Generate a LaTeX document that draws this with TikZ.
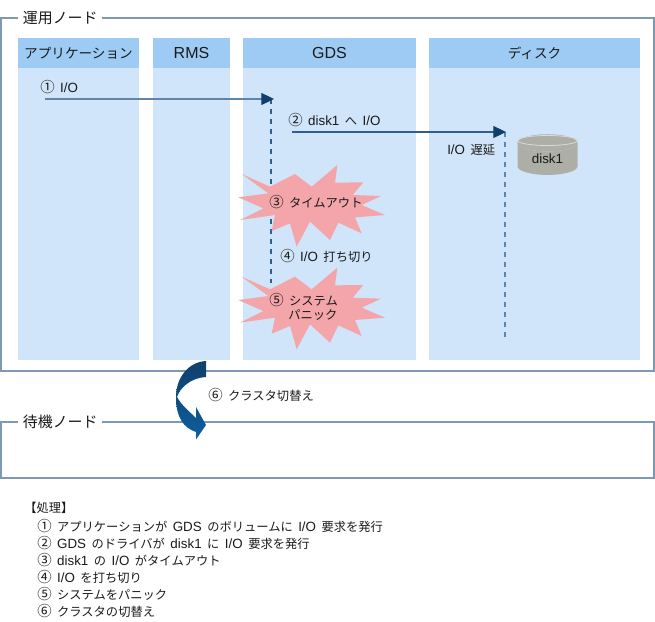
\documentclass[tikz,border=0pt]{standalone}
\usepackage{fontspec}
\setmainfont{Noto Sans CJK JP}[WordSpace=2.0]
\newfontfamily\lat{Liberation Sans}[Scale=1.09]
\newcommand{\cnum}[1]{{\fontsize{10.8}{10}\selectfont #1}}
\usetikzlibrary{arrows.meta, positioning, shapes.geometric}

\definecolor{framecol}{HTML}{7D99B3}
\definecolor{headcol}{HTML}{9ECBF3}
\definecolor{bodycol}{HTML}{D0E5FA}
\definecolor{burstcol}{HTML}{F3A5A9}
\definecolor{arrowcol}{HTML}{5F86A8}
\definecolor{darkcol}{HTML}{2F5F8C}
\definecolor{tipcol}{HTML}{103F6C}
\definecolor{swapmid}{HTML}{0D4F85}
\definecolor{swapend}{HTML}{0F5F9E}
\definecolor{diskcol}{HTML}{ADAEA6}
\definecolor{txtcol}{HTML}{1A1A1A}

\begin{document}
\begin{tikzpicture}[
    x=0.75pt, y=-0.75pt,
    frame/.style={draw=framecol, line width=1.1pt},
    title/.style={font=\fontsize{11.2}{13}\selectfont, fill=white, text=txtcol, inner xsep=3.5pt, inner ysep=0pt},
    head/.style={fill=headcol, minimum height=22.5pt, inner sep=0pt, outer sep=0pt, text=txtcol, font=\fontsize{10.2}{12}\selectfont},
    body/.style={fill=bodycol, minimum height=219pt, inner sep=0pt, outer sep=0pt},
    label/.style={font=\fontsize{9.2}{10}\selectfont, text=txtcol, inner sep=0pt, align=left},
    flow/.style={line width=0.8pt, -{Triangle[length=9.5pt, width=9pt, color=tipcol, fill=tipcol]}},
    wait/.style={line width=0.8pt, dash pattern=on 4pt off 3.5pt},
    burst/.style={fill=burstcol, draw=none}
]

  \path[use as bounding box] (0,0) rectangle (655,621);

  % Frames
  \draw[frame] (1,18) rectangle (654,371);
  \draw[frame] (1,422) rectangle (654,478);
  \node[title, anchor=west] (active) at (18,18) {運用ノード};
  \node[title, anchor=west] (standby) at (18,422) {待機ノード};

  % Columns
  \node[head, minimum width=90.75pt, anchor=north west] (apphead) at (18,38) {アプリケーション};
  \node[head, minimum width=57.75pt, right=10.5pt of apphead] (rmshead) {\lat\fontsize{11}{12}\selectfont RMS};
  \node[head, minimum width=129.75pt, right=9.75pt of rmshead] (gdshead) {\lat\fontsize{11}{12}\selectfont GDS};
  \node[head, minimum width=158.25pt, right=9.75pt of gdshead] (diskhead) {ディスク};
  \node[body, minimum width=90.75pt, below=0pt of apphead] (appbody) {};
  \node[body, minimum width=57.75pt, below=0pt of rmshead] (rmsbody) {};
  \node[body, minimum width=129.75pt, below=0pt of gdshead] (gdsbody) {};
  \node[body, minimum width=158.25pt, below=0pt of diskhead] (diskbody) {};

  % Flow ends
  \coordinate (iostart) at (45,99);
  \coordinate (ioend) at (274,99);
  \coordinate (iogds) at (271,99);
  \coordinate (gdsend) at (271,283);
  \coordinate (drvstart) at (292,132);
  \coordinate (drvend) at (506,132);
  \coordinate (drvdisk) at (505,132);
  \coordinate (diskend) at (505,338);

  \draw[wait, draw=darkcol] (iogds) -- (gdsend);
  \draw[wait, draw=arrowcol] (drvdisk) -- (diskend);
  \draw[flow, draw=arrowcol] (iostart) -- (ioend);
  \draw[flow, draw=darkcol] (drvstart) -- (drvend);

  % Bursts
  \foreach \dy/\nm in {0/timeout, 102.67/panic} {
    \fill[burst, shift={(220,160+\dy)}, x=0.25pt, y=-0.25pt]
      (65,42) -- (150,80) -- (225,42) -- (275,80) -- (352,15) -- (345,68) -- (430,67)
      -- (398,105) -- (483,108) -- (425,135) -- (495,165) -- (405,172) -- (425,220)
      -- (355,188) -- (330,240) -- (270,185) -- (230,260) -- (210,190) -- (155,213)
      -- (165,165) -- (60,180) -- (130,145) -- (55,112) -- (145,100) -- cycle;
  }

  % Disk
  \node[shape=cylinder, shape border rotate=90, aspect=0.55, minimum width=45pt, minimum height=30.5pt,
    cylinder uses custom fill, cylinder body fill=diskcol, cylinder end fill=diskcol,
    draw=none, inner sep=0pt, font=\lat\fontsize{9.2}{12}\selectfont, text=txtcol] (disk) at (547.5,159) {disk1};
  \draw[draw=diskcol!45!white, line width=0.6pt] (547.5,140.5) ellipse [x radius=30, y radius=5];

  % Labels
  \node[label, anchor=west] (lab1) at (40,87) {\cnum{①} {\lat I/O}};
  \node[label, anchor=west] (lab2) at (288,120) {\cnum{②} {\lat disk1} へ {\lat I/O}};
  \node[label, anchor=west] (lab3) at (269,202) {\cnum{③} タイムアウト};
  \node[label, anchor=west] (lab4) at (280,256) {\cnum{④} {\lat I/O} 打ち切り};
  \node[label, anchor=west] (lab5) at (269,307) {\cnum{⑤} システム\\\hspace*{14.25pt}パニック};
  \node[label, anchor=west] (lab6) at (208,395) {\cnum{⑥} クラスタ切替え};
  \node[label, anchor=west] (delay) at (447,150) {{\lat I/O} 遅延};

  % Switch arrow
  \path[top color=tipcol, bottom color=swapend, middle color=swapmid, draw=none]
    (206,361) -- (206,377) .. controls (190,378) and (180,388) .. (177,397)
    .. controls (182,406) and (190,412) .. (196,418) -- (196,407) -- (206,425) -- (196,439.5) -- (196,432)
    .. controls (184,428) and (176,418) .. (176,397)
    .. controls (176,378) and (188,362) .. (206,361) -- cycle;

  % Steps
  \node[font=\fontsize{9.2}{12}\selectfont, text=txtcol, inner sep=0pt, anchor=west] (stepstitle) at (24,508) {【処理】};
  \node[font=\fontsize{9.2}{12.75}\selectfont, text=txtcol, inner sep=0pt, align=left, anchor=north west] (steps) at (37,519)
    {\cnum{①} アプリケーションが {\lat GDS} のボリュームに {\lat I/O} 要求を発行\\
     \cnum{②} {\lat GDS} のドライバが {\lat disk1} に {\lat I/O} 要求を発行\\
     \cnum{③} {\lat disk1} の {\lat I/O} がタイムアウト\\
     \cnum{④} {\lat I/O} を打ち切り\\
     \cnum{⑤} システムをパニック\\
     \cnum{⑥} クラスタの切替え};

\end{tikzpicture}
\end{document}
